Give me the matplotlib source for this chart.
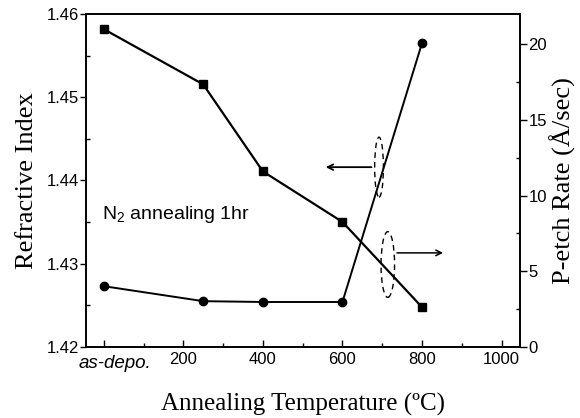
import numpy as np
import matplotlib.pyplot as plt
from matplotlib.patches import Ellipse

plt.rcParams['mathtext.fontset'] = 'custom'
plt.rcParams['mathtext.rm'] = 'Liberation Sans'

# datos
temperaturas = [0, 250, 400, 600, 800]
indice_refraccion = [1.4273, 1.4255, 1.4254, 1.4254, 1.4565]
tasa_grabado = [21.0, 17.35, 11.6, 8.26, 2.63]

xticks = [0, 200, 400, 600, 800, 1000]
xtick_labels = ['as-depo.', '200', '400', '600', '800', '1000']
yticks_izq = [1.42, 1.43, 1.44, 1.45, 1.46]
yticks_der = [0, 5, 10, 15, 20]

fig = plt.figure(figsize=(5.8, 4.18), dpi=100)
ax = fig.add_axes([0.148, 0.170, 0.749, 0.7965])
ax2 = ax.twinx()

ax.plot(temperaturas, indice_refraccion, color='black', lw=1.4,
        marker='o', markersize=6)
ax2.plot(temperaturas, tasa_grabado, color='black', lw=1.6,
         marker='s', markersize=6)

ax.set_xlim(-45, 1047)
ax.set_ylim(1.42, 1.46)
ax2.set_ylim(0, 22)

fuente_ticks = 'Liberation Sans'
ax.set_xticks(xticks)
# la primera etiqueta (cursiva, algo desplazada a la derecha) se pone aparte
ax.set_xticklabels([''] + xtick_labels[1:], family=fuente_ticks, fontsize=12)
ax.annotate(xtick_labels[0], xy=(xticks[0], 0), xycoords=('data', 'axes fraction'),
            xytext=(8, -5.5), textcoords='offset points', ha='center', va='top',
            family=fuente_ticks, fontsize=13.5, style='italic')
ax.set_xticks(np.arange(100, 1000, 200), minor=True)
ax.set_yticks(yticks_izq)
ax.set_yticklabels([f'{v:.2f}' for v in yticks_izq], family=fuente_ticks, fontsize=12)
ax.set_yticks(np.arange(1.425, 1.46, 0.01), minor=True)
ax2.set_yticks(yticks_der)
ax2.set_yticklabels([str(v) for v in yticks_der], family=fuente_ticks, fontsize=12)
ax2.set_yticks(np.arange(2.5, 22, 5), minor=True)

ax.tick_params(axis='x', which='major', direction='in', length=5, width=1, pad=4)
ax.tick_params(axis='x', which='minor', direction='in', length=3, width=1)
ax.tick_params(axis='y', which='major', direction='out', length=4, width=1, pad=1)
ax.tick_params(axis='y', which='minor', direction='in', length=3, width=1)
ax2.tick_params(axis='y', which='major', direction='out', length=5, width=1, pad=1)
ax2.tick_params(axis='y', which='minor', direction='in', length=3, width=1)

for eje in (ax, ax2):
    for s in eje.spines.values():
        s.set_linewidth(1.2)

fuente_ejes = 'Liberation Serif'
ax.set_xlabel('Annealing Temperature (ºC)', family=fuente_ejes, fontsize=18, labelpad=18)
ax.set_ylabel('Refractive Index', family=fuente_ejes, fontsize=19, labelpad=6)
ax2.set_ylabel('P-etch Rate (Å/sec)', family=fuente_ejes, fontsize=19, labelpad=2)

ax.text(-5, 1.4359, 'N$_2$ annealing 1hr', family=fuente_ticks, fontsize=14, va='center')

# elipses y flechas que indican a que eje pertenece cada curva
ax.add_patch(Ellipse((692, 1.4416), 22, 0.0072, fill=False, ls=(0, (4, 3)), lw=1))
ax.annotate('', xy=(551, 1.4416), xytext=(680, 1.4416),
            arrowprops=dict(arrowstyle='->', lw=1.3, color='black'))
ax.add_patch(Ellipse((714, 1.4299), 34, 0.0079, fill=False, ls=(0, (4, 3)), lw=1))
ax.annotate('', xy=(860, 1.4313), xytext=(730, 1.4313),
            arrowprops=dict(arrowstyle='->', lw=1.1, color='black'))

plt.savefig('out.png', dpi=100)
